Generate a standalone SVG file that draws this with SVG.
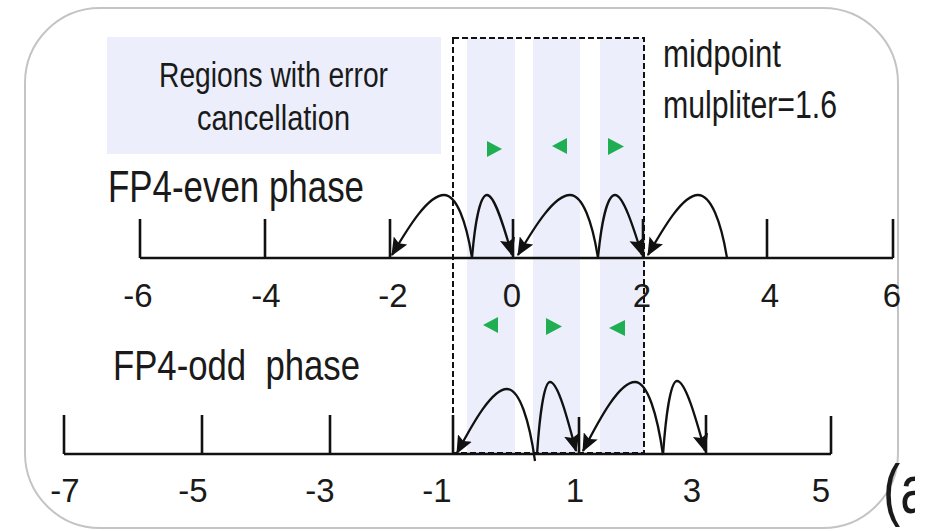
<svg xmlns="http://www.w3.org/2000/svg" width="941" height="531" viewBox="0 0 941 531">
<defs>
<style>
.t{font-family:"Liberation Sans","DejaVu Sans",sans-serif;fill:#1a1a1a}
.ax{stroke:#111;stroke-width:2.6;fill:none;stroke-linecap:butt}
.arc{stroke:#111;stroke-width:2.3;fill:none;marker-end:url(#ah)}
.band{fill:#eceffb}
.gt{fill:#1fae52}
.num{font-size:33px;text-anchor:middle}
</style>
<marker id="ah" viewBox="0 0 16 14" refX="15" refY="7" markerWidth="18" markerHeight="16" markerUnits="userSpaceOnUse" orient="auto">
<path d="M0,0 L16,7 L0,14 L3,7 z" fill="#111"/>
</marker>
<clipPath id="clipA"><rect x="0" y="0" width="915" height="531"/></clipPath>
</defs>
<rect width="941" height="531" fill="#fff"/>
<g id="frame"><rect x="25" y="8" width="873" height="520" rx="75" ry="75" fill="#fff" stroke="#c4c4c4" stroke-width="2"/></g>
<g id="legend-box">
<rect x="107" y="37" width="334" height="117" class="band"/>
<text class="t" x="159" y="87" font-size="35" textLength="229" lengthAdjust="spacingAndGlyphs">Regions with error</text>
<text class="t" x="197" y="130" font-size="35" textLength="153" lengthAdjust="spacingAndGlyphs">cancellation</text>
</g>
<g id="bands">
<rect x="467" y="38" width="48" height="415" class="band"/>
<rect x="533" y="38" width="47" height="415" class="band"/>
<rect x="600" y="38" width="44" height="415" class="band"/>
</g>
<g id="midpoint-box">
<rect x="453" y="38" width="191" height="415" fill="none" stroke="#111" stroke-width="2" stroke-dasharray="6 3"/>
<text class="t" x="663" y="67" font-size="38" textLength="118" lengthAdjust="spacingAndGlyphs">midpoint</text>
<text class="t" x="663" y="118" font-size="38" textLength="174" lengthAdjust="spacingAndGlyphs">mulpliter=1.6</text>
</g>
<g id="even-axis">
<text class="t" x="108" y="202" font-size="45" textLength="256" lengthAdjust="spacingAndGlyphs">FP4-even phase</text>
<path class="ax" d="M140 258 H893 M140 219 V258 M265 219 V258 M390 219 V258 M513 219 V258 M643 219 V258 M767 219 V258 M893 219 V258"/>
<text class="t num" x="138" y="307">-6</text>
<text class="t num" x="266" y="307">-4</text>
<text class="t num" x="393" y="307">-2</text>
<text class="t num" x="512" y="307">0</text>
<text class="t num" x="642" y="307">2</text>
<text class="t num" x="770" y="307">4</text>
<text class="t num" x="892" y="307">6</text>
</g>
<g id="odd-axis">
<text class="t" x="113" y="380" font-size="43" textLength="247" lengthAdjust="spacingAndGlyphs" xml:space="preserve">FP4-odd  phase</text>
<path class="ax" d="M64 454 H831 M64 415 V454 M202 415 V454 M330 415 V454 M453 415 V454 M579 417 V454 M706 415 V454 M831 416 V454"/>
<text class="t num" x="65" y="502">-7</text>
<text class="t num" x="193" y="502">-5</text>
<text class="t num" x="320" y="502">-3</text>
<text class="t num" x="437" y="502">-1</text>
<text class="t num" x="575" y="502">1</text>
<text class="t num" x="692" y="502">3</text>
<text class="t num" x="821" y="502">5</text>
</g>
<g id="connectors">
<path class="arc" d="M472 258 C466.4 222 456.6 195 444 195 C428.4 195 409 226 392 255"/>
<path class="arc" d="M472 258 C475 222 480.2 195 487 195 C494.5 195 503.8 226 512 255"/>
<path class="arc" d="M598 258 C592.4 222 582.6 195 570 195 C554.4 195 535 226 518 255"/>
<path class="arc" d="M598 258 C601.4 222 607.4 195 615 195 C623.1 195 633 226 642 255"/>
<path class="arc" d="M727 258 C721.2 222 711 195 698 195 C683 195 664.5 226 648 255"/>
<path class="arc" d="M535 461 C529.4 421 519.6 389 507 389 C492 389 473.5 422 457 453"/>
<path class="arc" d="M537 455 C539.6 415 544.2 382 550 382 C557.8 382 567.4 418 576 451"/>
<path class="arc" d="M663 455 C657.4 415 647.6 382 635 382 C619.4 382 600 418 583 451"/>
<path class="arc" d="M663 455 C665.8 415 670.7 381 677 381 C685.4 381 695.8 418 705 451"/>
</g>
<g id="direction-markers">
<polygon class="gt" points="487,141 487,157 502,149"/>
<polygon class="gt" points="567,138 567,154 552,146"/>
<polygon class="gt" points="608,138 608,155 624,146.5"/>
<polygon class="gt" points="498,317 498,333 483,325"/>
<polygon class="gt" points="546,318 546,335 562,326.5"/>
<polygon class="gt" points="625,320 625,336 609,328"/>
</g>
<g id="caption" clip-path="url(#clipA)">
<text class="t" x="883" y="513" font-size="68" textLength="46" lengthAdjust="spacingAndGlyphs">(a</text>
</g>
</svg>
